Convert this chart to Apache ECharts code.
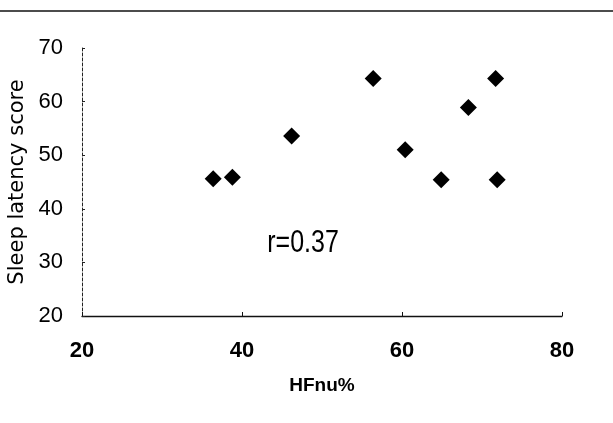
<!DOCTYPE html>
<html><head><meta charset="utf-8">
<script src="https://cdn.jsdelivr.net/npm/echarts@6/dist/echarts.min.js"></script>
<style>html,body{margin:0;padding:0;background:#fff}#c{width:613px;height:423px}</style>
</head><body><div id="c"></div>
<script>
const hfnu = [36.4, 38.8, 46.2, 56.4, 60.4, 64.9, 68.3, 71.7, 71.9];
const sleepLatency = [45.6, 45.9, 53.6, 64.3, 51.0, 45.4, 58.9, 64.3, 45.4];
const xTicks = [20, 40, 60, 80];
const yTicks = [20, 30, 40, 50, 60, 70];
const annotation = 'r=0.37';

const chart = echarts.init(document.getElementById('c'), null, {renderer: 'canvas'});
const font = '"Liberation Sans", Arial, sans-serif';
chart.setOption({
  animation: false,
  backgroundColor: '#fff',
  grid: {left: 82, right: 51, top: 48, bottom: 107, containLabel: false, outerBoundsMode: 'none'},
  xAxis: {
    type: 'value', min: xTicks[0], max: xTicks[xTicks.length-1], interval: 20,
    name: 'HFnu%', nameLocation: 'middle', nameGap: 60,
    nameTextStyle: {fontFamily: font, fontSize: 19, fontWeight: 'bold', color: '#000'},
    axisLine: {show: true, lineStyle: {color: '#111', width: 1.3}},
    axisTick: {show: true, inside: true, length: 4, lineStyle: {color: '#111'}},
    axisLabel: {fontFamily: font, fontSize: 22, fontWeight: 'bold', color: '#000', margin: 24},
    splitLine: {show: false}
  },
  yAxis: {
    type: 'value', min: yTicks[0], max: yTicks[yTicks.length-1], interval: 10,
    name: 'Sleep latency score', nameLocation: 'middle', nameGap: 52, nameRotate: 90,
    nameTextStyle: {fontFamily: '"DejaVu Sans", sans-serif', fontSize: 21, color: '#000'},
    axisLine: {show: true, lineStyle: {color: '#222', width: 1, type: [3, 2]}},
    axisTick: {show: true, inside: true, length: 3, lineStyle: {color: '#222'}},
    axisLabel: {fontFamily: font, fontSize: 22, color: '#000', margin: 19},
    splitLine: {show: false}
  },
  series: [{
    type: 'scatter',
    data: hfnu.map((x, i) => [x, sleepLatency[i]]),
    symbol: 'diamond', symbolSize: [17, 17],
    itemStyle: {color: '#000', opacity: 1}
  }],
  graphic: [
    {type: 'line', shape: {x1: 0, y1: 11, x2: 613, y2: 11}, style: {stroke: '#111', lineWidth: 1.5}},
    {type: 'text', x: 303, y: 244, scaleY: 1.22,
     style: {text: annotation, fontFamily: font, fontSize: 25, fill: '#000', align: 'center', verticalAlign: 'middle'}}
  ]
});
</script></body></html>
